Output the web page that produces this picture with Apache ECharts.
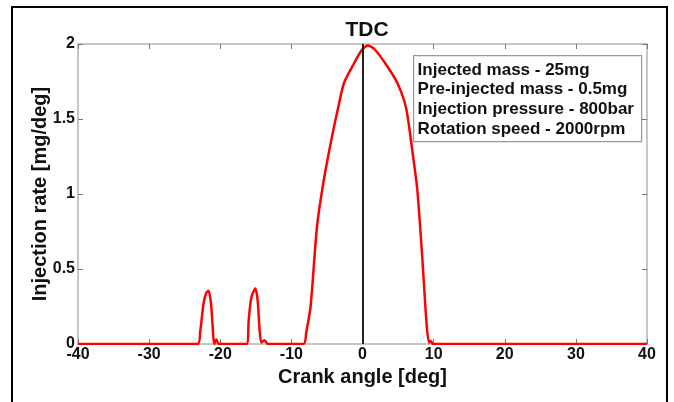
<!DOCTYPE html>
<html>
<head>
<meta charset="utf-8">
<script src="https://cdn.jsdelivr.net/npm/echarts@6/dist/echarts.min.js"></script>
<style>
  html, body { margin: 0; padding: 0; background: #fff; }
  #chart { width: 674px; height: 402px; }
</style>
</head>
<body>
<div id="chart"></div>
<script>
const crankAngle = [
  -40, -23.2, -22.8, -22.35, -21.97, -21.65, -21.3, -21.03, -20.85, -20.56, -20.2,
  -16.3, -16.0, -15.63, -15.07, -14.74, -14.46, -14.22, -13.8, -13.3,
  -8.3, -7.9, -7.3, -6.4, -5.45, -4.3, -3.4, -2.6, -1.2, -0.1, 0.75, 1.8,
  3.5, 4.9, 6.1, 7.0, 7.7, 8.4, 9.0, 9.35, 9.6, 9.9, 40
];
const injectionRate = [
  0, 0, 0.09, 0.27, 0.34, 0.355, 0.27, 0.09, 0, 0.03, 0,
  0, 0.16, 0.31, 0.37, 0.29, 0.09, 0.01, 0.025, 0,
  0, 0.08, 0.25, 0.78, 1.09, 1.38, 1.58, 1.74, 1.87, 1.96, 1.99, 1.96,
  1.85, 1.74, 1.58, 1.29, 1.03, 0.58, 0.14, 0.01, 0.02, 0, 0
];
const xTicks = [-40, 40, 10];
const yTicks = [0, 2, 0.5];
const infoLines = [
  'Injected mass - 25mg',
  'Pre-injected mass - 0.5mg',
  'Injection pressure - 800bar',
  'Rotation speed - 2000rpm'
];

const font = 'Liberation Sans, Arial, sans-serif';
const axisGray = '#b4b4b4';

const chart = echarts.init(document.getElementById('chart'));

function xAxisDef(pos, labels) {
  return {
    type: 'value',
    position: pos,
    min: xTicks[0], max: xTicks[1], interval: xTicks[2],
    axisLine: {show: true, onZero: false, lineStyle: {color: axisGray, width: 1.5}},
    axisTick: {show: true, inside: true, length: 5, lineStyle: {color: '#777'}},
    splitLine: {show: false},
    axisLabel: {
      show: labels, color: '#111', fontWeight: 'bold', fontSize: 16,
      fontFamily: font, margin: 3
    },
    name: labels ? 'Crank angle [deg]' : '',
    nameLocation: 'middle',
    nameGap: 23,
    nameMoveOverlap: false,
    nameTextStyle: {color: '#111', fontWeight: 'bold', fontSize: 20, fontFamily: font}
  };
}
function yAxisDef(pos, labels) {
  return {
    type: 'value',
    position: pos,
    min: yTicks[0], max: yTicks[1], interval: yTicks[2],
    axisLine: {show: true, onZero: false, lineStyle: {color: axisGray, width: 1.5}},
    axisTick: {show: true, inside: true, length: 5, lineStyle: {color: '#777'}},
    splitLine: {show: false},
    axisLabel: {
      show: labels, color: '#111', fontWeight: 'bold', fontSize: 16,
      fontFamily: font, margin: 3
    },
    name: labels ? 'Injection rate [mg/deg]' : '',
    nameLocation: 'middle',
    nameGap: 28,
    nameMoveOverlap: false,
    nameTextStyle: {color: '#111', fontWeight: 'bold', fontSize: 20, fontFamily: font}
  };
}

chart.setOption({
  animation: false,
  backgroundColor: '#fff',
  grid: {left: 78, right: 27, top: 44, bottom: 58},
  title: {
    text: 'TDC',
    left: 362, top: 15,
    textAlign: 'center',
    textStyle: {color: '#111', fontWeight: 'bold', fontSize: 21, fontFamily: font}
  },
  xAxis: [xAxisDef('bottom', true), xAxisDef('top', false)],
  yAxis: [yAxisDef('left', true), yAxisDef('right', false)],
  graphic: [
    {
      type: 'rect', silent: true,
      shape: {x: 12, y: 7, width: 655, height: 410},
      style: {fill: 'none', stroke: '#000', lineWidth: 2}
    },
    {
      type: 'group', left: 413, top: 55, z: 100,
      children: [
        {
          type: 'rect',
          shape: {x: 0, y: 0, width: 228, height: 86},
          style: {fill: '#fff', stroke: '#999', lineWidth: 1.2}
        }
      ].concat(infoLines.map((t, i) => ({
        type: 'text',
        x: 4, y: 6 + i * 19.7,
        style: {text: t, fill: '#111', font: 'bold 17px ' + font}
      })))
    }
  ],
  series: [{
    type: 'line',
    data: crankAngle.map((a, i) => [a, injectionRate[i]]),
    showSymbol: false,
    smooth: 0.25,
    lineStyle: {color: '#ff0000', width: 2.5},
    markLine: {
      silent: true,
      symbol: 'none',
      label: {show: false},
      lineStyle: {color: '#222', width: 2, type: 'solid'},
      data: [[{coord: [0, yTicks[0]]}, {coord: [0, yTicks[1]]}]]
    }
  }]
});
</script>
</body>
</html>
